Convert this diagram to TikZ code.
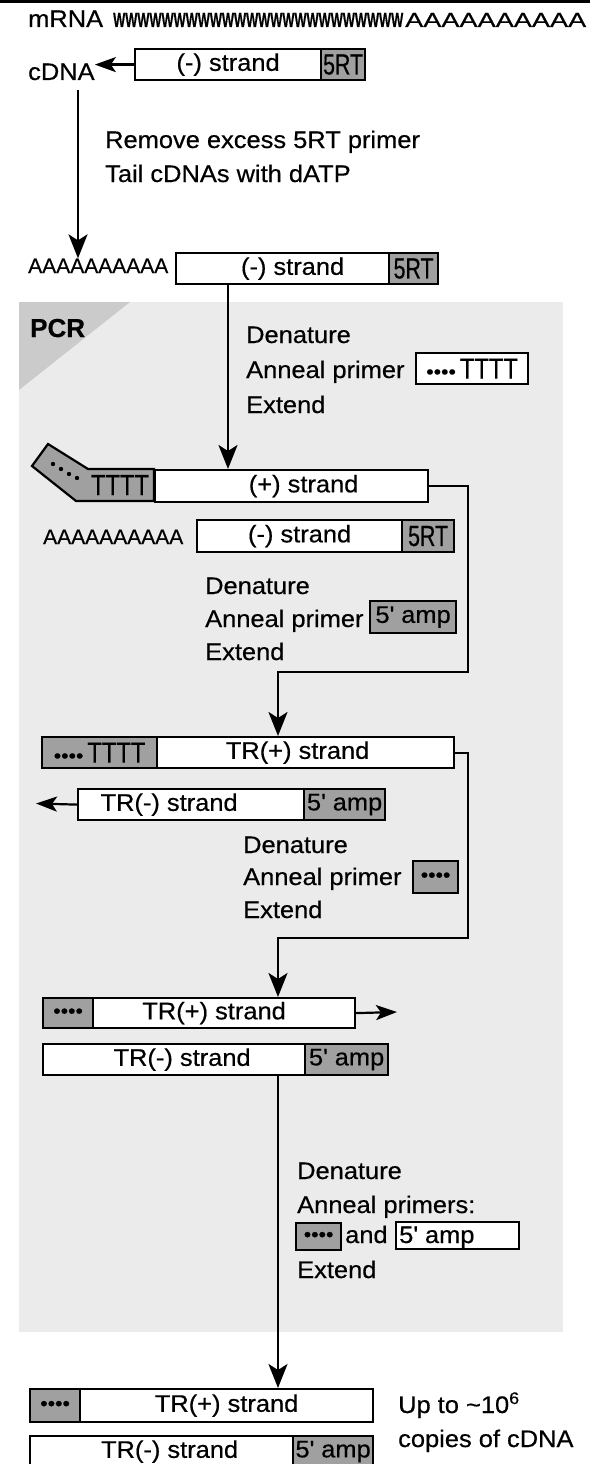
\documentclass[tikz,border=0pt]{standalone}
\usepackage{graphicx}
\usepackage{fontspec}
\setmainfont[FakeStretch=1.06,FakeBold=0.5]{Liberation Sans}
\newfontfamily\plainf[FakeBold=0.5]{Liberation Sans}
\usetikzlibrary{arrows.meta}
\definecolor{boxgray}{RGB}{160,160,160}
\definecolor{panelgray}{RGB}{235,235,235}
\definecolor{trigray}{RGB}{203,203,203}
\newcommand\fs{\fontsize{24}{28}\selectfont}
\newcommand\fa{\plainf\fontsize{21}{25}\selectfont}
\newcommand\pd{{\fontsize{20}{24}\selectfont ••••}}
\newcommand\tttt{\resizebox{58pt}{20pt}{TTTT}}
\newcommand\frt{\resizebox{40pt}{20pt}{5RT}}
\newcommand\amp{5\textquotesingle\ amp}
\begin{document}
\begin{tikzpicture}[x=1pt,y=-1pt,
  every node/.style={font=\fs, inner sep=0pt},
  lbl/.style={anchor=base west},
  wbox/.style={draw, line width=2.2pt, fill=white, anchor=north west},
  gbox/.style={draw, line width=2.2pt, fill=boxgray, anchor=north west},
  conn/.style={line width=2.2pt},
  arr/.style={conn, -{Stealth[length=24pt,width=19pt,inset=6pt]}},
  larr/.style={conn, -{Stealth[length=21pt,width=15pt,inset=5pt]}},
]
\useasboundingbox (0,0) rectangle (590,1464);
\clip (0,0) rectangle (590,1464);
\fill[white] (0,0) rectangle (590,1464);
\fill[black] (0,0) rectangle (590,3.5);
\fill[panelgray] (19,302) rectangle (563,1332);
\fill[trigray] (19,302) -- (130,302) -- (19,390) -- cycle;

% mRNA line
\node[lbl] (mrna) at (28,27) {mRNA};
\node[lbl] (mrnaw) at (113,27) {\resizebox{290pt}{14pt}{\bfseries WWWWWWWWWWWWWWWWWWWWWWWW}};
\node[lbl] (mrnaa) at (405,27) {\resizebox{181pt}{14pt}{AAAAAAAAAA}};

% cDNA row
\node[wbox, minimum width=186pt, minimum height=31pt] (s1) at (134,48) {(-) strand};
\node[gbox, minimum width=44pt, minimum height=31pt] (s1g) at (320,48) {\frt};
\node[lbl] (cdna) at (28,80) {cDNA};
\coordinate (c2s) at (78,90);

\node[lbl] (t1) at (105,148) {Remove excess 5RT primer};
\node[lbl] (t2) at (105,182) {Tail cDNAs with dATP};

% tailed row
\node[lbl, font=\fa] (a1) at (28,273) {AAAAAAAAAA};
\node[wbox, minimum width=213pt, minimum height=31pt] (s2) at (175,252) {\hspace*{20pt}(-) strand};
\node[gbox, minimum width=49pt, minimum height=31pt] (s2g) at (388,252) {\frt};
\coordinate (c3s) at (228,283);

% PCR
\node[lbl, font=\plainf\bfseries\fontsize{26}{30}\selectfont] (pcr) at (30,337) {PCR};

% block 1
\node[lbl] (d1) at (246,343) {Denature};
\node[lbl] (an1) at (246,378) {Anneal primer};
\node[wbox, minimum width=112pt, minimum height=31pt] (pr1) at (415,352) {\pd\,\tttt};
\node[lbl] (e1) at (246,413) {Extend};

% (+) strand row
\draw[line width=2.2pt, fill=boxgray, line join=miter] (154,469) -- (88,469) -- (48,444) -- (32,466) -- (76,501) -- (154,501) -- cycle;
\foreach \p in {(53,464),(61,469),(69,474),(77,478)} \fill \p circle[radius=2.2pt];
\node (tt1) at (120,485) {\tttt};
\node[wbox, minimum width=273pt, minimum height=32pt] (plus) at (154,469) {\hspace*{24pt}(+) strand};

% second (-) strand row
\node[lbl, font=\fa] (a2) at (43,544) {AAAAAAAAAA};
\node[wbox, minimum width=205pt, minimum height=32pt] (s3) at (196,519) {(-) strand};
\node[gbox, minimum width=52pt, minimum height=32pt] (s3g) at (401,519) {\frt};

% block 2
\node[lbl] (d2) at (205,594) {Denature};
\node[lbl] (an2) at (205,627) {Anneal primer};
\node[gbox, minimum width=86pt, minimum height=32pt] (am2) at (369,600) {\amp};
\node[lbl] (e2) at (205,660) {Extend};

% TR rows 2
\node[gbox, minimum width=115pt, minimum height=31pt] (trp2g) at (41,736) {\pd\,\tttt};
\node[wbox, minimum width=297pt, minimum height=31pt] (trp2) at (156,736) {TR(+) strand\hspace*{16pt}};
\node[wbox, minimum width=226pt, minimum height=31pt] (trm2) at (77,788) {TR(-) strand\hspace*{44pt}};
\node[gbox, minimum width=81pt, minimum height=31pt] (trm2g) at (303,788) {\amp};
\coordinate (e6) at (36,803.5);

% block 3
\node[lbl] (d3) at (243,853) {Denature};
\node[lbl] (an3) at (243,885) {Anneal primer};
\node[gbox, minimum width=45pt, minimum height=32pt] (pr3) at (412,860) {\pd};
\node[lbl] (e3) at (243,918) {Extend};

% TR rows 3
\node[gbox, minimum width=50pt, minimum height=30pt] (trp3g) at (42,997) {\pd};
\node[wbox, minimum width=262pt, minimum height=30pt] (trp3) at (92,997) {TR(+) strand\hspace*{20pt}};
\coordinate (e7) at (397,1012);
\node[wbox, minimum width=262pt, minimum height=31pt] (trm3) at (42,1043) {\hspace*{16pt}TR(-) strand};
\node[gbox, minimum width=83pt, minimum height=31pt] (trm3g) at (304,1043) {\amp};
\coordinate (c8s) at (278,1074);

% block 4
\node[lbl] (d4) at (297,1179) {Denature};
\node[lbl] (an4) at (297,1213) {Anneal primers:};
\node[gbox, minimum width=45pt, minimum height=27pt] (pr4) at (295,1222) {\pd};
\node[lbl] (and4) at (345,1243) {and};
\node[wbox, minimum width=123pt, minimum height=27pt] (am4) at (395,1221) {};
\node[lbl] (am4t) at (399,1243) {\amp};
\node[lbl] (e4) at (297,1278) {Extend};

% final rows
\node[gbox, minimum width=50pt, minimum height=33pt] (trpfg) at (29,1388) {\pd};
\node[wbox, minimum width=293pt, minimum height=33pt] (trpf) at (79,1388) {TR(+) strand};
\node[wbox, minimum width=263pt, minimum height=31pt] (trmf) at (29,1435) {\hspace*{16pt}TR(-) strand};
\node[gbox, minimum width=80pt, minimum height=31pt] (trmfg) at (292,1435) {\amp};
\node[lbl] (up) at (398,1413) {Up to \textasciitilde10\textsuperscript{6}};
\node[lbl] (cop) at (398,1447) {copies of cDNA};

% connectors
\draw[larr] (s1.west) -- (s1.west -| cdna.east);
\draw[arr] (c2s) -- (c2s |- a1.north);
\draw[arr] (c3s) -- (c3s |- plus.north);
\draw[arr] (plus.east) -| (468,672) -- (278,672) -- (278,672 |- trp2.north);
\draw[arr] (trp2.east) -| (468,938) -- (278,938) -- (278,938 |- trp3.north);
\draw[larr] (trm2.west) -- (e6);
\draw[larr] (trp3.east) -- (e7);
\draw[arr] (c8s) -- (c8s |- trpf.north);
\end{tikzpicture}
\end{document}
